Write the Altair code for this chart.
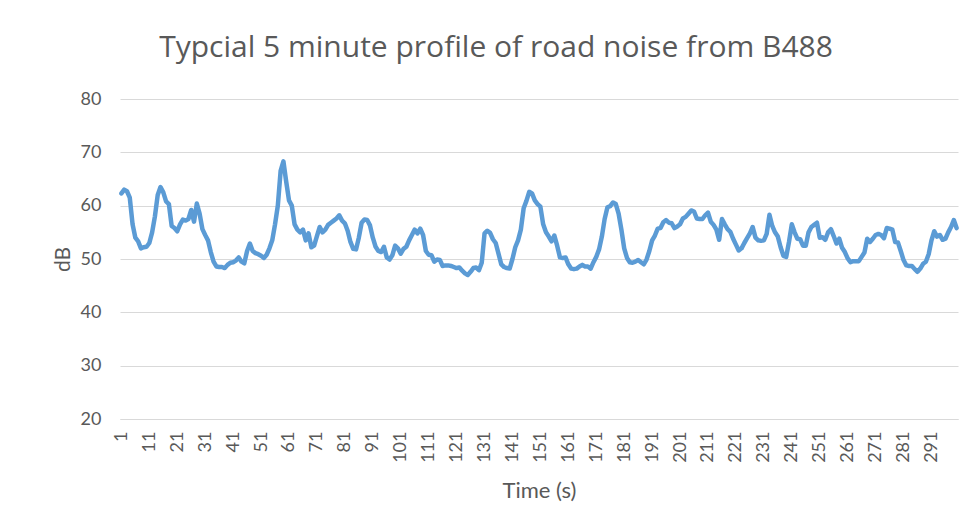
import altair as alt
import pandas as pd

seconds = list(range(1, 301))
db_values = [
    62.3, 63.0, 62.7, 61.5, 56.5, 54.0, 53.3, 52.0, 52.2, 52.3,
    53.0, 55.0, 58.0, 62.0, 63.5, 62.5, 60.8, 60.3, 56.2, 55.8,
    55.2, 56.5, 57.4, 57.2, 57.5, 59.2, 57.0, 60.4, 58.5, 55.6,
    54.5, 53.5, 51.3, 49.5, 48.6, 48.5, 48.5, 48.3, 48.9, 49.3,
    49.4, 49.7, 50.3, 49.5, 49.2, 51.5, 52.9, 51.5, 51.1, 50.9,
    50.6, 50.2, 50.8, 52.0, 53.5, 56.5, 60.0, 66.5, 68.3, 64.5,
    61.0, 60.0, 56.5, 55.5, 55.0, 55.5, 53.5, 54.8, 52.2, 52.5,
    54.3, 56.0, 55.0, 55.5, 56.4, 56.8, 57.2, 57.6, 58.2, 57.2,
    56.7, 55.3, 53.2, 51.9, 51.8, 54.0, 56.8, 57.4, 57.3, 56.3,
    54.0, 52.3, 51.5, 51.3, 52.3, 50.3, 49.9, 50.7, 52.5, 52.0,
    51.0, 51.9, 52.3, 53.5, 54.5, 55.5, 54.8, 55.7, 54.5, 51.5,
    50.8, 50.7, 49.5, 49.9, 49.8, 48.7, 48.8, 48.8, 48.7, 48.5,
    48.3, 48.4, 47.8, 47.3, 47.0, 47.6, 48.3, 48.4, 47.9, 49.3,
    54.8, 55.3, 54.9, 53.7, 53.0, 51.0, 49.0, 48.5, 48.3, 48.2,
    50.0, 52.2, 53.5, 55.5, 59.5, 60.9, 62.6, 62.3, 61.0, 60.3,
    59.8, 56.5, 55.0, 54.2, 53.3, 54.4, 52.5, 50.3, 50.2, 50.3,
    49.0, 48.2, 48.1, 48.2, 48.6, 48.9, 48.6, 48.6, 48.2, 49.4,
    50.4, 51.8, 54.2, 57.5, 59.7, 59.9, 60.6, 60.3, 58.5, 55.5,
    52.0, 50.2, 49.4, 49.3, 49.5, 49.8, 49.4, 49.0, 49.9, 51.5,
    53.5, 54.4, 55.7, 55.8, 56.9, 57.3, 56.8, 56.7, 55.8, 56.1,
    56.5, 57.6, 57.9, 58.5, 59.1, 58.9, 57.6, 57.5, 57.5, 58.2,
    58.7, 57.0, 56.4, 55.5, 53.6, 57.5, 56.5, 55.6, 55.1, 53.8,
    52.7, 51.6, 52.0, 53.0, 53.9, 54.8, 56.0, 54.0, 53.5, 53.4,
    53.5, 54.7, 58.3, 56.2, 55.0, 54.2, 52.2, 50.6, 50.4, 53.2,
    56.5, 55.0, 53.8, 53.7, 52.5, 52.5, 55.0, 56.0, 56.4, 56.8,
    54.0, 54.1, 53.6, 55.0, 55.6, 54.3, 52.9, 53.8, 52.1, 51.3,
    50.1, 49.4, 49.6, 49.6, 49.6, 50.4, 51.2, 53.8, 53.2, 53.8,
    54.5, 54.7, 54.5, 53.9, 55.8, 55.7, 55.5, 53.2, 53.1, 51.5,
    49.8, 48.8, 48.7, 48.7, 48.1, 47.6, 48.2, 49.1, 49.5, 50.9,
    53.5, 55.2, 54.2, 54.5, 53.6, 53.8, 55.0, 56.0, 57.3, 55.8,
]
x_tick_values = list(range(1, 300, 10))
y_tick_values = [20, 30, 40, 50, 60, 70, 80]

df = pd.DataFrame({"t": seconds, "db": db_values})

FONT = "Lato"
GREY = "#595959"

chart = (
    alt.Chart(df)
    .mark_line(color="#5B9BD5", strokeWidth=4.5, strokeJoin="round", strokeCap="round")
    .encode(
        x=alt.X(
            "t:Q",
            scale=alt.Scale(domain=[0.5, 300.5], nice=False, zero=False),
            axis=alt.Axis(
                title="Time (s)",
                values=x_tick_values,
                labelAngle=270,
                grid=False,
                ticks=False,
                domain=True,
                domainColor="#D9D9D9",
                domainWidth=1,
                labelPadding=12,
                labelFontSize=18,
                labelFont=FONT,
                labelColor=GREY,
                titleFont=FONT,
                titleFontSize=22,
                titleFontWeight="normal",
                titleColor=GREY,
                titlePadding=18,
                labelOverlap=False,
            ),
        ),
        y=alt.Y(
            "db:Q",
            scale=alt.Scale(domain=[20, 80], nice=False, zero=False),
            axis=alt.Axis(
                title="dB",
                values=y_tick_values,
                grid=True,
                gridColor="#D9D9D9",
                gridWidth=1,
                ticks=False,
                domain=False,
                labelPadding=19,
                labelFontSize=18,
                labelFont=FONT,
                labelColor=GREY,
                titleFont=FONT,
                titleFontSize=21,
                titleFontWeight="normal",
                titleColor=GREY,
                titlePadding=7,
            ),
        ),
    )
    .properties(
        width=838,
        height=320,
        background="white",
        autosize=alt.AutoSizeParams(type="none"),
        padding={"left": 112, "top": 91, "right": 2, "bottom": 100},
        title=alt.TitleParams(
            "Typcial 5 minute profile of road noise from B488",
            font="Open Sans",
            fontSize=30,
            fontWeight="normal",
            color=GREY,
            anchor="middle",
            frame="group",
            offset=27,
            dx=-43,
        ),
    )
    .configure_view(strokeWidth=0, stroke=None)
)

chart.save("out.html", embed_options={"renderer": "svg", "actions": False})
